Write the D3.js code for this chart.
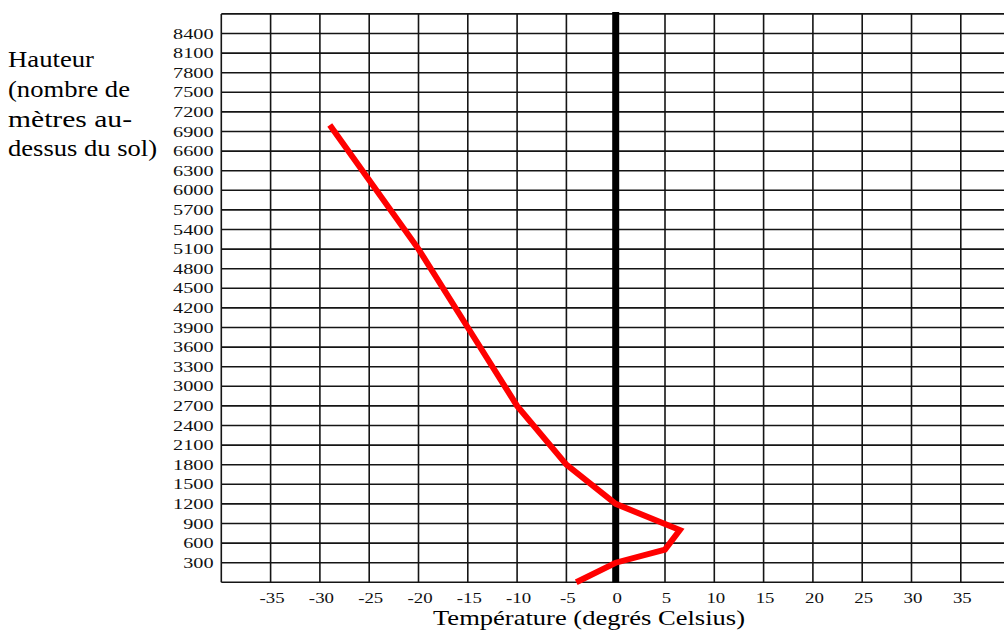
<!DOCTYPE html>
<html>
<head>
<meta charset="utf-8">
<script src="https://cdn.jsdelivr.net/npm/d3@7"></script>
<style>
  html, body { margin: 0; padding: 0; background: #fff; }
  svg { display: block; }
</style>
</head>
<body>
<svg id="chart" width="1004" height="630"></svg>
<script>
// ---- data ----
const xTicks = [-35, -30, -25, -20, -15, -10, -5, 0, 5, 10, 15, 20, 25, 30, 35];
const yTicks = [300, 600, 900, 1200, 1500, 1800, 2100, 2400, 2700, 3000, 3300, 3600, 3900, 4200,
                4500, 4800, 5100, 5400, 5700, 6000, 6300, 6600, 6900, 7200, 7500, 7800, 8100, 8400];
const temperature = [-4, 0, 5, 6.5, 0, -5, -10, -15, -20, -29];
const altitude    = [0, 300, 500, 800, 1200, 1800, 2700, 3900, 5100, 7000];
const yLabelLines = ["Hauteur", "(nombre de", "mètres au-", "dessus du sol)"];
const xTitle = "Température (degrés Celsius)";

// ---- layout ----
const svg = d3.select("#chart");
const x = d3.scaleLinear().domain([-40, 40]).range([221.3, 1010.1]);
const y = d3.scaleLinear().domain([0, 8700]).range([582.3, 13.9]);
const font = "'Liberation Serif', 'Times New Roman', serif";

const grid = svg.append("g").attr("stroke", "#151515").attr("stroke-width", 1.6).attr("fill", "none");
// horizontal lines
grid.selectAll("line.h").data([0, ...yTicks, 8700]).join("line")
  .attr("class", "h")
  .attr("x1", x(-40)).attr("x2", 1004)
  .attr("y1", d => y(d)).attr("y2", d => y(d));
// vertical lines
grid.selectAll("line.v").data([-40, ...xTicks]).join("line")
  .attr("class", "v")
  .attr("x1", d => x(d)).attr("x2", d => x(d))
  .attr("y1", y(8700)).attr("y2", y(0));

// bold zero line
svg.append("line")
  .attr("x1", x(0)).attr("x2", x(0))
  .attr("y1", y(8700) - 2).attr("y2", y(0))
  .attr("stroke", "#000").attr("stroke-width", 7);

// y tick labels
svg.append("g").selectAll("text").data(yTicks).join("text")
  .attr("transform", d => `translate(213.5,${y(d) + 5}) scale(1.35,1)`)
  .attr("text-anchor", "end")
  .attr("font-family", font).attr("font-size", 15)
  .attr("fill", "#111")
  .text(d => d);

// x tick labels
svg.append("g").selectAll("text").data(xTicks).join("text")
  .attr("transform", d => `translate(${x(d) + 1.5},603) scale(1.3,1)`)
  .attr("text-anchor", "middle")
  .attr("font-family", font).attr("font-size", 14.5)
  .attr("fill", "#111")
  .text(d => d);

// x title
svg.append("text")
  .attr("x", 433).attr("y", 625)
  .attr("font-family", font).attr("font-size", 22)
  .attr("textLength", 312).attr("lengthAdjust", "spacingAndGlyphs")
  .attr("fill", "#000")
  .text(xTitle);

// y label (multi-line)
const yLabWidths = [86, 122, 124, 149];
svg.append("g").selectAll("text").data(yLabelLines).join("text")
  .attr("x", 8).attr("y", (d, i) => 67.3 + i * 29.6)
  .attr("font-family", font).attr("font-size", 23)
  .attr("textLength", (d, i) => yLabWidths[i]).attr("lengthAdjust", "spacingAndGlyphs")
  .attr("fill", "#000")
  .text(d => d);

// temperature profile
const pts = temperature.map((t, i) => [t, altitude[i]]);
svg.append("path")
  .datum(pts)
  .attr("d", d3.line().x(d => x(d[0])).y(d => y(d[1])))
  .attr("fill", "none")
  .attr("stroke", "#ff0000")
  .attr("stroke-width", 6)
  .attr("stroke-linejoin", "miter");
</script>
</body>
</html>
